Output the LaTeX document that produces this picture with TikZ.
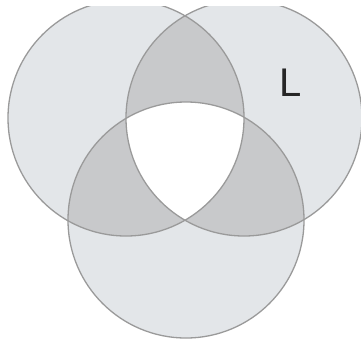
\documentclass[tikz,border=0pt]{standalone}
\usepackage{fontspec}
\setmainfont{Liberation Sans}
\definecolor{lightfill}{HTML}{E3E6E9}
\definecolor{darkfill}{HTML}{C8C9CB}
\definecolor{edge}{HTML}{9A9A9A}
\begin{document}
\begin{tikzpicture}[x=1pt,y=-1pt,
  ring/.style={draw=edge,line width=1.3pt}]
\useasboundingbox (0,0) rectangle (361,341);
\coordinate (A) at (126,118);
\coordinate (B) at (244,118);
\coordinate (C) at (186,220);
\def\rr{118}
\begin{scope}
\clip (0,6) rectangle (361,341);
\fill[lightfill] (A) circle (\rr);
\fill[lightfill] (B) circle (\rr);
\fill[lightfill] (C) circle (\rr);
\begin{scope}\clip (A) circle (\rr); \fill[darkfill] (B) circle (\rr); \fill[darkfill] (C) circle (\rr);\end{scope}
\begin{scope}\clip (B) circle (\rr); \fill[darkfill] (C) circle (\rr);\end{scope}
\begin{scope}\clip (A) circle (\rr); \clip (B) circle (\rr); \fill[white] (C) circle (\rr);\end{scope}
\draw[ring] (A) circle (\rr);
\draw[ring] (B) circle (\rr);
\draw[ring] (C) circle (\rr);
\end{scope}
\node[font=\fontsize{40}{40}\selectfont, text=black!85, inner sep=0pt] (L) at (291,83) {L};
\end{tikzpicture}
\end{document}
